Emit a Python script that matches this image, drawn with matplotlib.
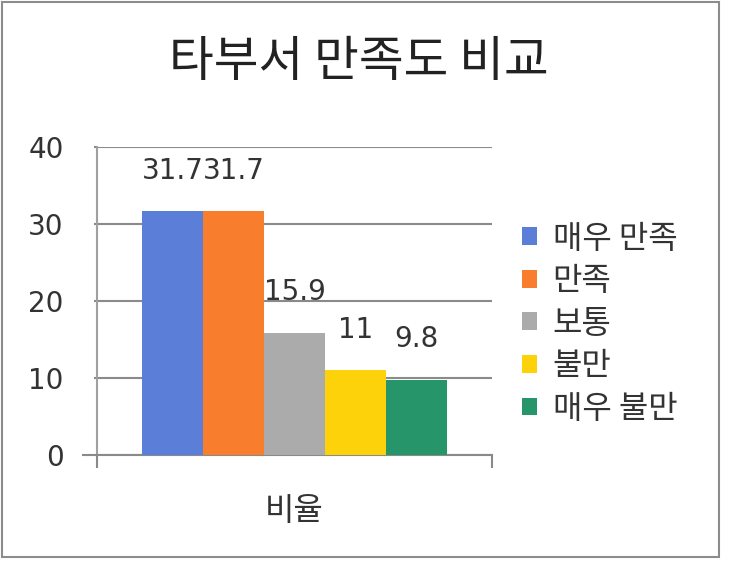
import matplotlib
matplotlib.use('Agg')
import matplotlib.pyplot as plt
from matplotlib.patches import Rectangle

plt.rcParams['font.family'] = ['Noto Sans CJK KR', 'DejaVu Sans']

title = '타부서 만족도 비교'
category = '비율'
labels = ['매우 만족', '만족', '보통', '불만', '매우 불만']
values = [31.7, 31.7, 15.9, 11, 9.8]
colors = ['#5B7ED8', '#F87E2E', '#ABABAB', '#FDD20A', '#26956A']
yticks = [0, 10, 20, 30, 40]

num_font = 'DejaVu Sans'

fig = plt.figure(figsize=(7.3, 5.66), dpi=100)
ax = fig.add_axes([0.1329, 0.1961, 0.5411, 0.5442])

n = len(values)
group = 0.772
w = group / n
for i, (lab, v, c) in enumerate(zip(labels, values, colors)):
    x = -group / 2 + w / 2 + i * w
    ax.bar(x, v, width=w, color=c, label=lab, zorder=3)
    ax.annotate(f'{v:g}', (x, v), xytext=(0, 29), textcoords='offset points',
                ha='center', va='center', fontsize=20, color='#333333',
                family=num_font)

ax.set_xlim(-0.5, 0.5)
ax.set_ylim(0, 40)
ax.set_yticks(yticks)
ax.yaxis.grid(True, color='#8a8a8a', lw=1.5, zorder=1)
ax.tick_params(axis='y', length=2, width=1.5, color='#8a8a8a', pad=22,
               labelsize=20, labelcolor='#333333')
for t in ax.get_yticklabels():
    t.set_family(num_font)
ax.yaxis.get_major_ticks()[0].tick1line.set_markersize(11)

ax.set_xticks([0])
ax.set_xticklabels([category])
ax.tick_params(axis='x', length=0, pad=29, labelsize=23, labelcolor='#333333')
ax.set_xticks([-0.5, 0.5], minor=True)
ax.tick_params(axis='x', which='minor', length=9, width=1.5, color='#8a8a8a')

for s in ['top', 'right']:
    ax.spines[s].set_visible(False)
ax.spines['left'].set_color('#a0a0a0')
ax.spines['left'].set_linewidth(1.5)
ax.spines['bottom'].set_color('#8a8a8a')
ax.spines['bottom'].set_linewidth(1.5)

fig.text(0.492, 0.890, title, ha='center', va='center', fontsize=35, color='#222222')

fig.legend(loc='center left', bbox_to_anchor=(0.715, 0.428), frameon=False,
           fontsize=23, labelspacing=0.33, handlelength=0.48, handleheight=0.48,
           handletextpad=0.48, borderpad=0, borderaxespad=0, labelcolor='#333333')

fig.patches.append(Rectangle((2 / 730, 9 / 566), 717 / 730, 555 / 566,
                             transform=fig.transFigure, fill=False,
                             edgecolor='#8c8c8c', lw=1.5))

fig.savefig('out.png', dpi=100)
